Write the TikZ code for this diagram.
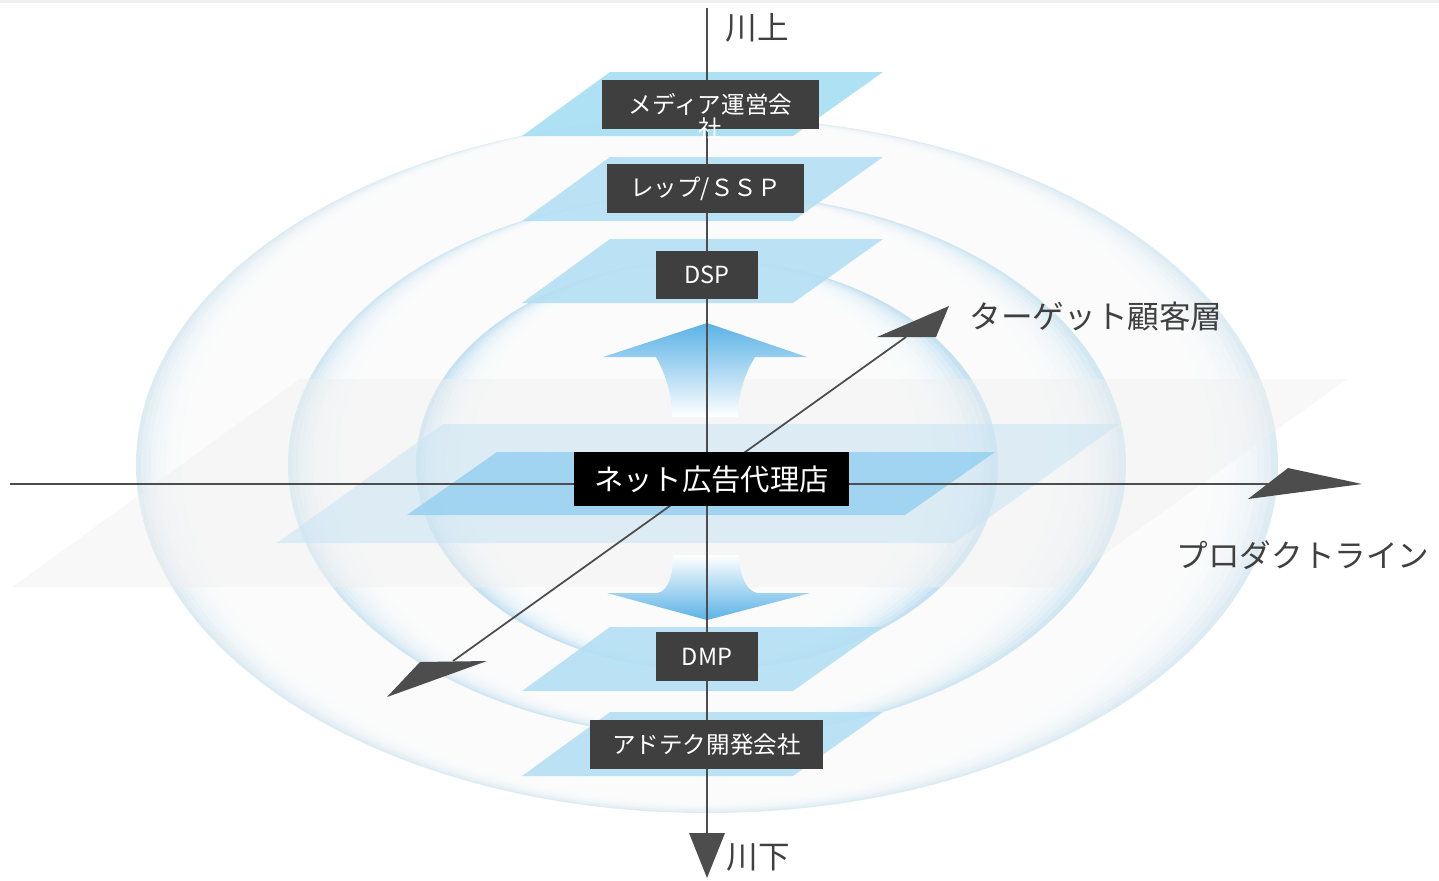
\documentclass[tikz,border=0pt]{standalone}
\usepackage{fontspec}
\newfontfamily\jpfont{Noto Sans CJK JP}
\usetikzlibrary{shadings}

\definecolor{axisgray}{HTML}{4D4D4D}
\definecolor{labelgray}{HTML}{404040}
\definecolor{boxgray}{HTML}{3F3F3F}
\definecolor{layerblue}{HTML}{B4DFF4}
\definecolor{layercyan}{HTML}{A5DEF3}
\definecolor{corelayer}{HTML}{9DD3F0}
\definecolor{widelayer}{HTML}{C9E4F4}
\definecolor{floorgray}{HTML}{F0F0F0}
\definecolor{arrowblue}{HTML}{5AB2E6}
\definecolor{ringout}{HTML}{DDEBF2}
\definecolor{ringmid}{HTML}{D1E7F2}
\definecolor{ringin}{HTML}{C6E2F2}

\tikzset{
  layer/.style={fill opacity=0.9},
  boxtext/.style={text=white, inner sep=0pt, font=\jpfont\fontsize{13.4}{16}\selectfont},
  darkbox/.style={boxtext, fill=boxgray},
  axislabel/.style={text=labelgray, inner sep=0pt, font=\jpfont\fontsize{18}{22}\selectfont},
  tip/.style={fill=axisgray},
}

\begin{document}
\begin{tikzpicture}[x=0.02cm, y=-0.02cm, line width=1pt]
    \useasboundingbox (0,0) rectangle (1439,880);
    \fill[black!6] (0,0) rectangle (1439,3);

    % Rings
    \foreach \rx/\ry/\c in {571/348/ringout, 419/272/ringmid, 291/205/ringin}{
      \fill[\c] (707,465) ellipse [x radius={\rx*0.02cm}, y radius={\ry*0.02cm}];
      \foreach \i in {1,...,15}
        \fill[white, fill opacity=0.24] (707-\i,465-0.5*\i)
          ellipse [x radius={(\rx-6*\i)*0.02cm}, y radius={(\ry-0.7*\i)*0.02cm}];
    }

    % Floors
    \fill[floorgray, fill opacity=0.45] (12,587) -- (300,379) -- (1347,379) -- (1059,587) -- cycle;
    \fill[widelayer, fill opacity=0.55] (277,543) -- (443,424) -- (1119,424) -- (954,543) -- cycle;
    \fill[corelayer, fill opacity=0.95] (407,515) -- (497,452) -- (995,452) -- (905,515) -- cycle;
    \foreach \y/\c in {72/layercyan, 157/layerblue, 239/layerblue, 627/layerblue, 712/layerblue}
      \fill[\c, layer] (610,\y) -- (883,\y) -- (793,\y+64) -- (522,\y+64) -- cycle;

    % Flow arrows
    \shade[top color=arrowblue, bottom color=white]
      (707,323) -- (807,357) -- (755,357) .. controls (744,375) and (738,395) .. (738,417)
      -- (672,417) .. controls (672,395) and (666,375) .. (656,357) -- (603,357) -- cycle;
    \shade[top color=white, bottom color=arrowblue]
      (673,555) -- (739,555) .. controls (740,577) and (746,590) .. (757,593) -- (810,593)
      -- (707,620) -- (607,593) -- (658,593) .. controls (668,590) and (673,577) .. (673,555) -- cycle;

    % Axes
    \coordinate (upstream) at (707,8);
    \coordinate (downstream) at (707,833);
    \coordinate (west) at (10,484);
    \coordinate (east) at (1268,484);
    \coordinate (front) at (453,661);
    \coordinate (back) at (906,337);
    \draw[axisgray] (upstream) -- (downstream);
    \draw[axisgray] (west) -- (east);
    \draw[axisgray] (front) -- (back);

    % Arrow heads
    \fill[tip] (689,833) -- (725,833) -- (707,878) -- cycle;
    \fill[tip] (1288,468) -- (1362,484) -- (1248,499) -- cycle;
    \fill[tip] (877,337) -- (949,306) -- (936,337) -- cycle;
    \fill[tip] (387,697) -- (420,662) -- (487,661) -- cycle;

    % Players
    \node[darkbox, minimum width=4.34cm, minimum height=0.98cm] (media) at (710.5,104.5) {メディア運営会};
    \node[boxtext] (mediatail) at (710,129) {社};
    \node[darkbox, minimum width=3.94cm, minimum height=0.98cm] (rep) at (705.5,188.5) {レップ/ＳＳＰ};
    \node[darkbox, minimum width=2.04cm, minimum height=0.96cm] (dsp) at (707,275) {DSP};
    \node[darkbox, fill=black, minimum width=5.5cm, minimum height=1.08cm,
      font=\jpfont\fontsize{16.7}{20}\selectfont] (agency) at (711.5,479) {ネット広告代理店};
    \node[darkbox, minimum width=2.04cm, minimum height=0.98cm] (dmp) at (707,656.5) {DMP};
    \node[darkbox, minimum width=4.66cm, minimum height=0.98cm] (adtech) at (706.5,744.5) {アドテク開発会社};

    % Labels
    \node[axislabel] (upper) at (757,28) {川上};
    \node[axislabel] (lower) at (758,857) {川下};
    \node[axislabel] (target) at (1096,317) {ターゲット顧客層};
    \node[axislabel] (product) at (1303,555) {プロダクトライン};
\end{tikzpicture}
\end{document}
